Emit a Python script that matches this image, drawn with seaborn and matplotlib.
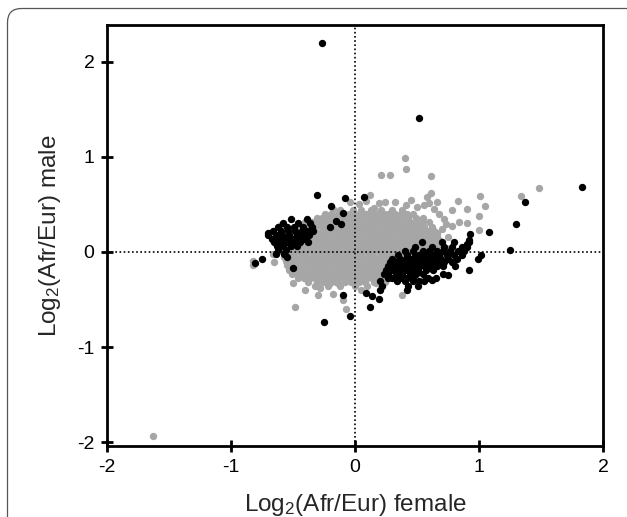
import matplotlib
matplotlib.use("Agg")
import matplotlib.pyplot as plt
import seaborn as sns
import pandas as pd
from matplotlib.patches import FancyBboxPatch
from matplotlib.transforms import IdentityTransform

# gray cloud (y of the row, x of the dots)
gray_row_y = [0.44, 0.40, 0.355, 0.31, 0.265, 0.22, 0.175, 0.13, 0.085, 0.04,
              -0.005, -0.05, -0.095, -0.14, -0.185, -0.23, -0.275, -0.32, -0.36]
gray_row_x = [
    [-0.12, -0.02, 0.05, 0.13, 0.21, 0.30, 0.38],
    [-0.24, -0.19, -0.14, -0.09, -0.05, 0.00, 0.04, 0.09, 0.14, 0.18, 0.23, 0.27, 0.32, 0.37, 0.42, 0.47],
    [-0.31, -0.27, -0.22, -0.18, -0.13, -0.08, -0.04, 0.01, 0.06, 0.10, 0.15, 0.19, 0.24, 0.29, 0.33, 0.38,
     0.43, 0.49, 0.55],
    [-0.40, -0.35, -0.30, -0.26, -0.21, -0.16, -0.12, -0.07, -0.02, 0.02, 0.07, 0.12, 0.16, 0.21, 0.26, 0.30,
     0.35, 0.40, 0.44, 0.49, 0.54, 0.60],
    [-0.45, -0.41, -0.36, -0.32, -0.27, -0.23, -0.18, -0.13, -0.09, -0.04, 0.00, 0.05, 0.09, 0.14, 0.19, 0.23,
     0.28, 0.32, 0.37, 0.42, 0.46, 0.51, 0.56, 0.62],
    [-0.50, -0.46, -0.41, -0.37, -0.32, -0.27, -0.23, -0.18, -0.14, -0.09, -0.05, 0.00, 0.04, 0.09, 0.13, 0.18,
     0.22, 0.27, 0.31, 0.36, 0.41, 0.45, 0.50, 0.54, 0.59, 0.64],
    [-0.53, -0.49, -0.44, -0.39, -0.35, -0.30, -0.25, -0.21, -0.16, -0.12, -0.07, -0.03, 0.02, 0.06, 0.11, 0.15,
     0.20, 0.25, 0.29, 0.34, 0.38, 0.43, 0.47, 0.52, 0.57, 0.61, 0.66],
    [-0.55, -0.51, -0.46, -0.42, -0.37, -0.33, -0.28, -0.23, -0.19, -0.14, -0.10, -0.05, -0.01, 0.04, 0.08, 0.13,
     0.17, 0.22, 0.27, 0.31, 0.36, 0.40, 0.45, 0.49, 0.54, 0.59, 0.63, 0.68],
    [-0.57, -0.53, -0.48, -0.44, -0.39, -0.35, -0.30, -0.26, -0.21, -0.16, -0.12, -0.07, -0.03, 0.02, 0.06, 0.11,
     0.15, 0.20, 0.24, 0.29, 0.33, 0.38, 0.43, 0.47, 0.52, 0.56, 0.61, 0.66, 0.70],
    [-0.58, -0.54, -0.49, -0.45, -0.40, -0.36, -0.31, -0.27, -0.22, -0.18, -0.13, -0.09, -0.04, 0.00, 0.05, 0.09,
     0.14, 0.18, 0.23, 0.27, 0.32, 0.36, 0.41, 0.46, 0.50, 0.55, 0.59, 0.64, 0.68, 0.73],
    [-0.58, -0.53, -0.49, -0.44, -0.40, -0.35, -0.31, -0.26, -0.22, -0.17, -0.13, -0.08, -0.04, 0.01, 0.05, 0.10,
     0.14, 0.19, 0.23, 0.28, 0.32, 0.37, 0.42, 0.48, 0.55, 0.63, 0.70],
    [-0.57, -0.52, -0.48, -0.43, -0.39, -0.34, -0.30, -0.25, -0.21, -0.16, -0.12, -0.07, -0.03, 0.02, 0.06, 0.11,
     0.15, 0.20, 0.24, 0.29, 0.33, 0.40, 0.48, 0.57],
    [-0.56, -0.51, -0.47, -0.42, -0.38, -0.33, -0.29, -0.24, -0.20, -0.15, -0.11, -0.06, -0.02, 0.03, 0.07, 0.12,
     0.16, 0.21, 0.25, 0.30, 0.36, 0.44],
    [-0.55, -0.50, -0.46, -0.41, -0.37, -0.32, -0.28, -0.23, -0.19, -0.14, -0.10, -0.05, -0.01, 0.04, 0.08, 0.13,
     0.17, 0.22, 0.26, 0.31, 0.38],
    [-0.53, -0.49, -0.44, -0.40, -0.35, -0.31, -0.26, -0.22, -0.17, -0.13, -0.08, -0.04, 0.01, 0.05, 0.10, 0.14,
     0.19, 0.23, 0.28, 0.33],
    [-0.51, -0.46, -0.42, -0.37, -0.33, -0.28, -0.24, -0.19, -0.15, -0.10, -0.06, -0.01, 0.03, 0.08, 0.12, 0.17,
     0.21, 0.26],
    [-0.46, -0.41, -0.36, -0.32, -0.27, -0.22, -0.18, -0.13, -0.09, -0.04, 0.00, 0.05, 0.10, 0.14, 0.19, 0.23],
    [-0.38, -0.31, -0.26, -0.20, -0.15, -0.08, -0.03, 0.03, 0.08, 0.15],
    [-0.32, -0.22, -0.12, 0.00, 0.10],
]

# loose gray points around the cloud
gray_out_x = [-1.63, 0.40, 0.41, 0.21, 0.28, 0.61, 0.61, 0.12, 1.01, 0.83, 0.90, 0.78, 1.00, 1.00, 0.66,
              0.60, 0.56, 0.41, 0.32, 0.24, 0.19, 1.48, 1.34, -0.04, 0.03, 0.09, -0.82, -0.82, -0.65, -0.48,
              -0.30, -0.18, -0.07, -0.13, -0.20, 0.38, 0.17, 0.24, -0.50, 0.73, 0.78, 0.66, 0.72, 0.68,
              0.84, 0.75, 0.70, 0.64, 0.50, 0.45, 0.15, -0.18, 0.58, -0.40, -0.28, 0.05, -0.66, -0.60,
              -0.10, 0.90, 1.05]
gray_out_y = [-1.93, 0.99, 0.87, 0.81, 0.81, 0.80, 0.62, 0.60, 0.59, 0.54, 0.45, 0.44, 0.38, 0.23, 0.53,
              0.51, 0.49, 0.49, 0.53, 0.53, 0.51, 0.67, 0.59, 0.52, 0.50, 0.54, -0.09, -0.14, -0.11, -0.58,
              -0.45, -0.44, -0.60, -0.34, -0.33, -0.45, -0.33, -0.32, -0.33, 0.29, 0.27, 0.20, 0.35, 0.40,
              0.32, 0.16, 0.24, 0.45, 0.47, 0.55, 0.46, 0.45, 0.58, -0.40, -0.38, -0.40, -0.02, 0.28,
              -0.50, 0.30, 0.48]

# black points: right cluster (rows), left cluster (rows), and loose ones
black_right_y = [0.10, 0.05, 0.01, -0.03, -0.07, -0.11, -0.15, -0.19, -0.23, -0.27, -0.31, -0.36, -0.40]
black_right_x = [
    [0.54, 0.70, 0.80, 0.92],
    [0.48, 0.62, 0.72, 0.78, 0.86, 0.90],
    [0.40, 0.47, 0.55, 0.60, 0.66, 0.71, 0.77, 0.83, 0.88],
    [0.35, 0.42, 0.48, 0.52, 0.57, 0.63, 0.68, 0.74, 0.80, 0.86, 1.02],
    [0.30, 0.36, 0.41, 0.45, 0.50, 0.55, 0.59, 0.64, 0.69, 0.75, 0.82, 0.99],
    [0.28, 0.33, 0.39, 0.44, 0.48, 0.53, 0.58, 0.62, 0.67, 0.72, 0.78],
    [0.27, 0.32, 0.37, 0.42, 0.47, 0.52, 0.56, 0.61, 0.66, 0.71, 0.81],
    [0.25, 0.31, 0.36, 0.41, 0.46, 0.51, 0.57, 0.63, 0.92],
    [0.23, 0.27, 0.33, 0.38, 0.44, 0.49, 0.55, 0.71],
    [0.27, 0.30, 0.36, 0.42, 0.47, 0.59, 0.65],
    [0.20, 0.34, 0.40, 0.47, 0.52, 0.56],
    [0.22, 0.43, 0.51],
    [0.20, 0.42],
]
black_left_y = [0.35, 0.30, 0.26, 0.22, 0.18, 0.14, 0.10, 0.06, 0.02, -0.02]
black_left_x = [
    [-0.52, -0.39],
    [-0.58, -0.46, -0.36],
    [-0.62, -0.55, -0.49, -0.42, -0.35],
    [-0.66, -0.60, -0.54, -0.48, -0.43, -0.38, -0.34],
    [-0.70, -0.64, -0.59, -0.53, -0.47, -0.42, -0.37],
    [-0.67, -0.62, -0.57, -0.51, -0.46, -0.40],
    [-0.65, -0.60, -0.55, -0.49, -0.44, -0.38],
    [-0.63, -0.58, -0.52, -0.47],
    [-0.62, -0.56],
    [-0.64, -0.57],
]
black_out_x = [-0.31, -0.08, 0.07, -0.19, -0.10, -0.15, -0.11, -0.20, -0.27, 0.52, 1.83, 1.37, 1.30, 1.08,
               1.25, 0.93, 0.92, 0.90, -0.10, -0.25, -0.04, 0.12, 0.09, 0.14, 0.19, -0.50, -0.81, -0.75,
               -0.55, -0.70, 0.62, 0.75]
black_out_y = [0.60, 0.57, 0.58, 0.48, 0.41, 0.33, 0.29, 0.26, 2.20, 1.41, 0.68, 0.53, 0.29, 0.21,
               0.02, 0.19, 0.13, 0.08, -0.45, -0.74, -0.67, -0.58, -0.43, -0.46, -0.49, -0.17, -0.12, -0.07,
               -0.05, 0.20, -0.29, -0.24]

x_ticks = [-2, -1, 0, 1, 2]
y_ticks = [-2, -1, 0, 1, 2]


def flatten_rows(row_y, row_x):
    xs, ys = [], []
    for y, xr in zip(row_y, row_x):
        xs += xr
        ys += [y] * len(xr)
    return xs, ys


gx, gy = flatten_rows(gray_row_y, gray_row_x)
gray = pd.DataFrame({"x": gx + gray_out_x, "y": gy + gray_out_y})

brx, bry = flatten_rows(black_right_y, black_right_x)
blx, bly = flatten_rows(black_left_y, black_left_x)
black = pd.DataFrame({"x": brx + blx + black_out_x, "y": bry + bly + black_out_y})

sns.set_style("ticks")
plt.rcParams["font.family"] = ["Liberation Sans", "DejaVu Sans"]
plt.rcParams["mathtext.default"] = "regular"

fig = plt.figure(figsize=(6.27, 5.17), dpi=100)
ax = fig.add_axes([107 / 627, 71 / 517, 496 / 627, 421 / 517])

sns.scatterplot(data=gray, x="x", y="y", color="#a6a6a6", s=28, linewidth=0, ax=ax, zorder=2)
sns.scatterplot(data=black, x="x", y="y", color="black", s=28, linewidth=0, ax=ax, zorder=3)

ax.axhline(0, color="black", lw=1.2, ls=(0, (1, 1.5)), zorder=4)
ax.axvline(0, color="black", lw=1.2, ls=(0, (1, 1.5)), zorder=4)

ax.set_xlim(-2, 2)
ax.set_ylim(-2.038, 2.384)
ax.set_xticks(x_ticks)
ax.set_yticks(y_ticks)
ax.set_xticklabels([str(t) for t in x_ticks])
ax.set_yticklabels([str(t) for t in y_ticks])

for s in ax.spines.values():
    s.set_visible(True)
    s.set_linewidth(2)
    s.set_color("black")
ax.tick_params(direction="inout", length=8, width=2, labelsize=14, pad=5, colors="black")

ax.set_xlabel("Log$_2$(Afr/Eur) female", fontsize=17.5, labelpad=12)
ax.set_ylabel("Log$_2$(Afr/Eur) male", fontsize=17.5, labelpad=10)

# rounded frame around the whole panel, running off the right and bottom edges
frame = FancyBboxPatch((7.5, -30), 635, 538.5, boxstyle="round,pad=0,rounding_size=14",
                       transform=IdentityTransform(), fill=False, edgecolor="#555555", linewidth=0.9)
fig.add_artist(frame)

fig.savefig("out.png", dpi=100)
